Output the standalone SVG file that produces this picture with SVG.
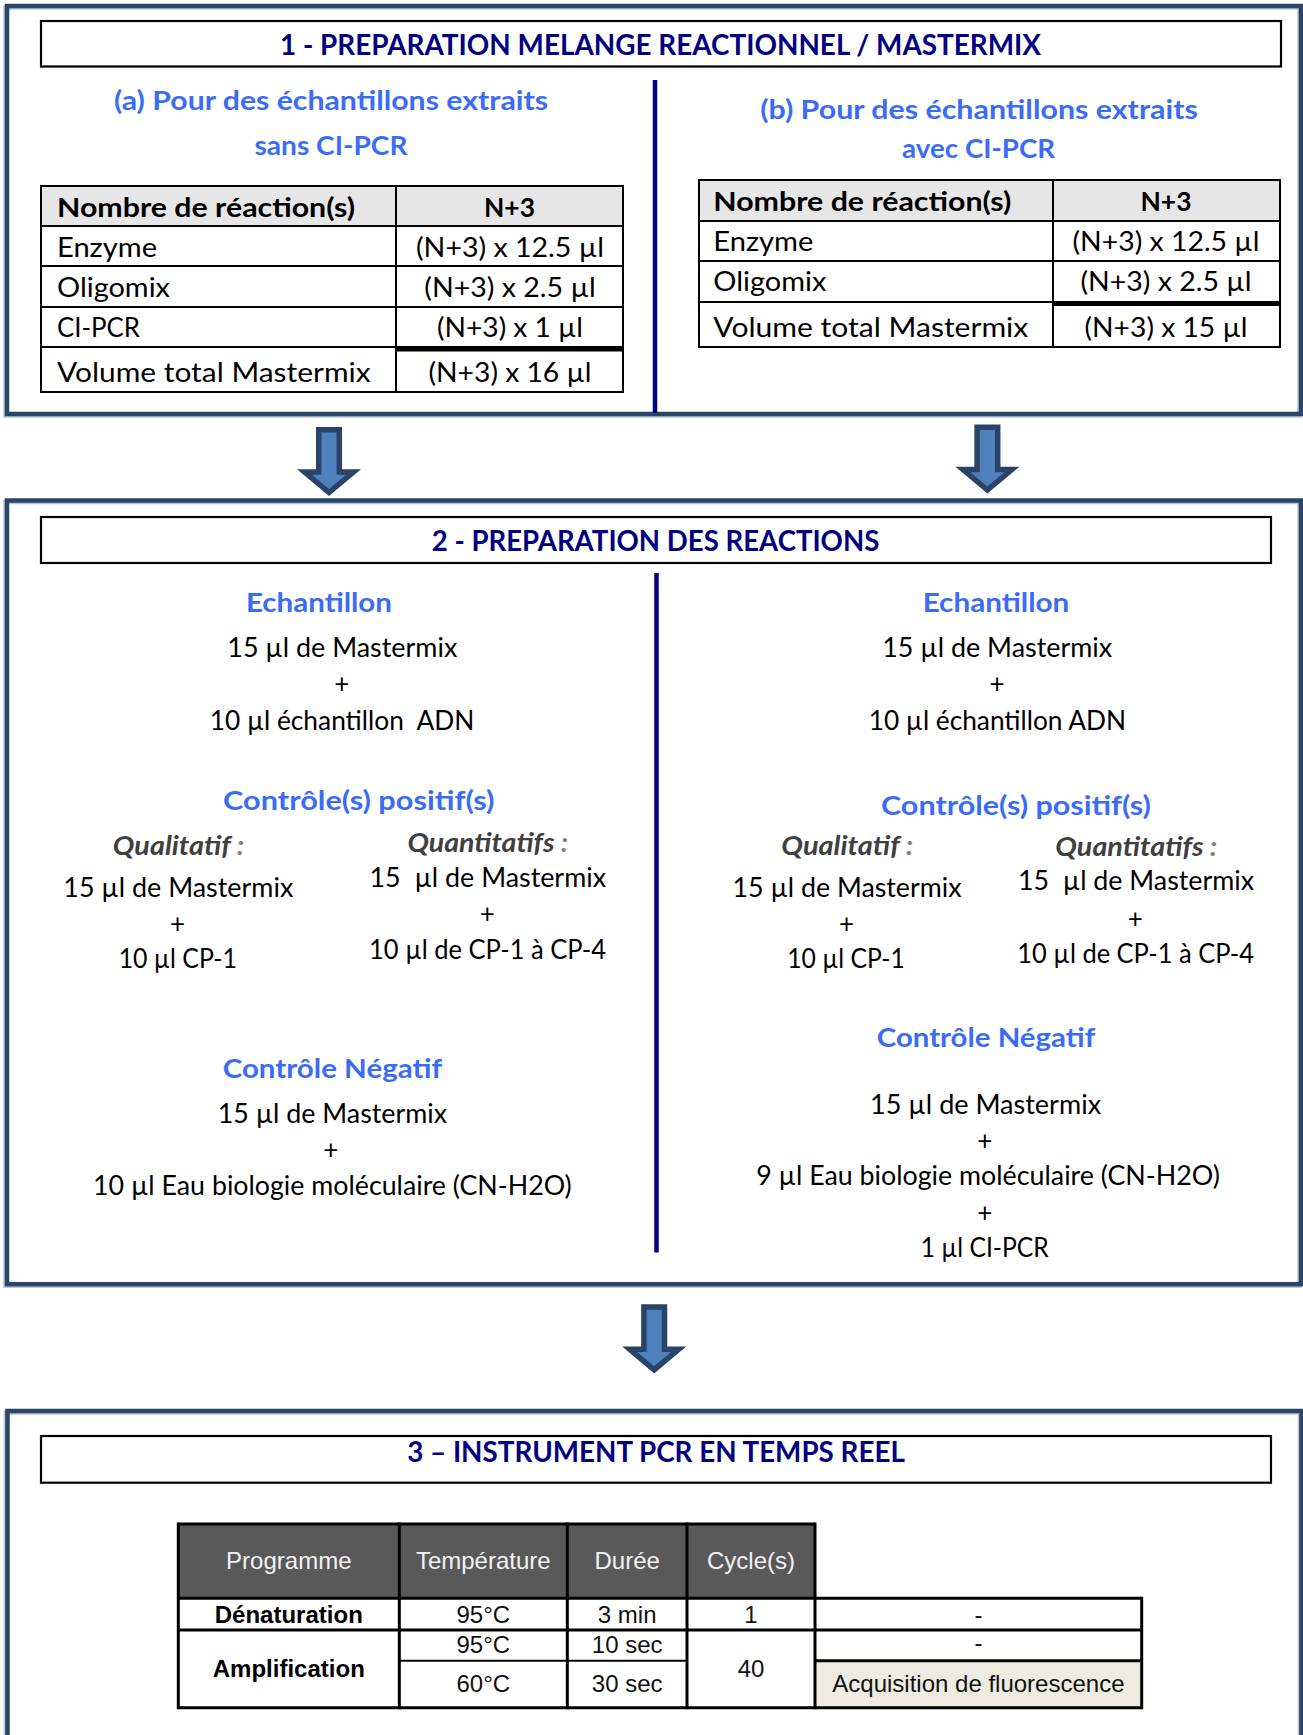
<svg xmlns="http://www.w3.org/2000/svg" width="1303" height="1735" viewBox="0 0 1303 1735">
<style>
.frame{fill:none;stroke:#2B4567;stroke-width:4.5}
.frameL{fill:none;stroke:#B8C4D4;stroke-width:4.5}
.tbox{fill:none;stroke:#000;stroke-width:2.2}
.div{stroke:#000080;stroke-width:4.5}
.title{font-family:Lato,"Open Sans",sans-serif;font-weight:bold;font-size:28px;fill:#000080;text-anchor:middle}
.head{font-family:Lato,"Open Sans",sans-serif;font-weight:bold;font-size:27px;fill:#3B6CF8;text-anchor:middle}
.cell{font-family:Lato,"Open Sans",sans-serif;font-size:27px;fill:#000}
.cellb{font-family:Lato,"Open Sans",sans-serif;font-size:27px;font-weight:bold;fill:#000}
.mid{text-anchor:middle}
.body{font-family:Lato,"Open Sans",sans-serif;font-size:26px;fill:#000;text-anchor:middle}
.sub{font-family:Lato,"Open Sans",sans-serif;font-size:26px;font-weight:bold;font-style:italic;fill:#404040;text-anchor:middle}
.colon{fill:#808080}
.tl{fill:none;stroke:#000;stroke-width:2}
.hdr{fill:#E7E6E6}
.t3{font-family:"Liberation Sans",Arial,sans-serif;font-size:24px;fill:#111;text-anchor:middle}
.t3h{font-family:"Liberation Sans",Arial,sans-serif;font-size:24px;fill:#F2F2F2;text-anchor:middle}
.t3b{font-family:"Liberation Sans",Arial,sans-serif;font-size:24px;font-weight:bold;fill:#000;text-anchor:middle}
.g3{stroke:#000;stroke-width:3;fill:none}
.arrow{fill:#4F81BD;stroke:#2A4467;stroke-width:5.5;stroke-linejoin:miter}
</style>
<defs>
<path id="arr" class="arrow" d="M-10.3,2.7 H10.3 V45 H24.5 L0,65.5 L-24.5,45 H-10.3 Z"/>
</defs>
<rect width="1303" height="1735" fill="#fff"/>

<!-- SECTION 1 -->
<g id="section1">
<rect class="frameL" x="5.5" y="7.5" width="1294" height="408"/>
<rect class="frame" x="7" y="6" width="1294" height="408"/>
<rect class="tbox" x="41" y="21" width="1240" height="45.5"/>
<text class="title" x="660.5" y="55" textLength="761" lengthAdjust="spacingAndGlyphs">1 - PREPARATION MELANGE REACTIONNEL / MASTERMIX</text>
<line class="div" x1="655" y1="80" x2="655" y2="413"/>
</g>

<g id="table-a">
<text class="head" x="331" y="110" textLength="434" lengthAdjust="spacingAndGlyphs">(a) Pour des échantillons extraits</text>
<text class="head" x="331" y="155" textLength="153" lengthAdjust="spacingAndGlyphs">sans CI-PCR</text>
<rect class="hdr" x="41" y="186" width="582" height="40"/>
<rect class="tl" x="41" y="186" width="582" height="206"/>
<line class="tl" x1="41" y1="226" x2="623" y2="226"/>
<line class="tl" x1="41" y1="266" x2="623" y2="266"/>
<line class="tl" x1="41" y1="307" x2="623" y2="307"/>
<line class="tl" x1="41" y1="347" x2="623" y2="347"/>
<rect x="396" y="346.5" width="227" height="5" fill="#000"/>
<line class="tl" x1="396" y1="186" x2="396" y2="392"/>
<text class="cellb" x="57" y="216.7" textLength="298" lengthAdjust="spacingAndGlyphs">Nombre de réaction(s)</text>
<text class="cellb mid" x="509.5" y="216.7" textLength="51" lengthAdjust="spacingAndGlyphs">N+3</text>
<text class="cell" x="57" y="256.7" textLength="100" lengthAdjust="spacingAndGlyphs">Enzyme</text>
<text class="cell mid" x="510" y="256.7" textLength="188" lengthAdjust="spacingAndGlyphs">(N+3) x 12.5 µl</text>
<text class="cell" x="57" y="296.7" textLength="113" lengthAdjust="spacingAndGlyphs">Oligomix</text>
<text class="cell mid" x="510" y="296.7" textLength="171.5" lengthAdjust="spacingAndGlyphs">(N+3) x 2.5 µl</text>
<text class="cell" x="57" y="337.3" textLength="83" lengthAdjust="spacingAndGlyphs">CI-PCR</text>
<text class="cell mid" x="510" y="337.3" textLength="146" lengthAdjust="spacingAndGlyphs">(N+3) x 1 µl</text>
<text class="cell" x="57" y="381.7" textLength="313.6" lengthAdjust="spacingAndGlyphs">Volume total Mastermix</text>
<text class="cell mid" x="510" y="381.7" textLength="163" lengthAdjust="spacingAndGlyphs">(N+3) x 16 µl</text>
</g>

<g id="table-b">
<text class="head" x="979" y="119" textLength="437.6" lengthAdjust="spacingAndGlyphs">(b) Pour des échantillons extraits</text>
<text class="head" x="978.6" y="158" textLength="153" lengthAdjust="spacingAndGlyphs">avec CI-PCR</text>
<rect class="hdr" x="699" y="180" width="581" height="41"/>
<rect class="tl" x="699" y="180" width="581" height="167"/>
<line class="tl" x1="699" y1="221" x2="1280" y2="221"/>
<line class="tl" x1="699" y1="261" x2="1280" y2="261"/>
<line class="tl" x1="699" y1="302" x2="1280" y2="302"/>
<rect x="1053" y="301" width="227" height="5" fill="#000"/>
<line class="tl" x1="1053" y1="180" x2="1053" y2="347"/>
<text class="cellb" x="713.3" y="210.7" textLength="298" lengthAdjust="spacingAndGlyphs">Nombre de réaction(s)</text>
<text class="cellb mid" x="1166" y="210.7" textLength="51" lengthAdjust="spacingAndGlyphs">N+3</text>
<text class="cell" x="713.3" y="250.7" textLength="100" lengthAdjust="spacingAndGlyphs">Enzyme</text>
<text class="cell mid" x="1166" y="250.7" textLength="187" lengthAdjust="spacingAndGlyphs">(N+3) x 12.5 µl</text>
<text class="cell" x="713.3" y="291" textLength="113" lengthAdjust="spacingAndGlyphs">Oligomix</text>
<text class="cell mid" x="1166" y="291" textLength="171" lengthAdjust="spacingAndGlyphs">(N+3) x 2.5 µl</text>
<text class="cell" x="713.3" y="336.7" textLength="315" lengthAdjust="spacingAndGlyphs">Volume total Mastermix</text>
<text class="cell mid" x="1166" y="336.7" textLength="163" lengthAdjust="spacingAndGlyphs">(N+3) x 15 µl</text>
</g>

<!-- SECTION 2 -->
<g id="section2">
<rect class="frameL" x="5.5" y="502" width="1294" height="783.7"/>
<rect class="frame" x="7" y="500.5" width="1294" height="783.7"/>
<rect class="tbox" x="41" y="517" width="1230" height="46"/>
<text class="title" x="655.5" y="550.8" textLength="447.6" lengthAdjust="spacingAndGlyphs">2 - PREPARATION DES REACTIONS</text>
<line class="div" x1="656.5" y1="573" x2="656.5" y2="1252.5"/>
</g>

<g id="reactions-a">
<text class="head" x="319" y="611.7" textLength="146" lengthAdjust="spacingAndGlyphs">Echantillon</text>
<text class="body" x="342.3" y="656.8" textLength="230" lengthAdjust="spacingAndGlyphs">15 µl de Mastermix</text>
<text class="body" x="341.7" y="693">+</text>
<text class="body" x="342" y="729.6" xml:space="preserve" textLength="264.7" lengthAdjust="spacingAndGlyphs">10 µl échantillon  ADN</text>
<text class="head" x="358.8" y="810" textLength="271.5" lengthAdjust="spacingAndGlyphs">Contrôle(s) positif(s)</text>
<text class="sub" x="178.5" y="855" textLength="131.5" lengthAdjust="spacingAndGlyphs">Qualitatif<tspan class="colon"> :</tspan></text>
<text class="body" x="178.3" y="897" textLength="230" lengthAdjust="spacingAndGlyphs">15 µl de Mastermix</text>
<text class="body" x="177.6" y="933.2">+</text>
<text class="body" x="177.8" y="968" textLength="118.3" lengthAdjust="spacingAndGlyphs">10 µl CP-1</text>
<text class="sub" x="487.8" y="852" textLength="160.8" lengthAdjust="spacingAndGlyphs">Quantitatifs<tspan class="colon"> :</tspan></text>
<text class="body" x="487.8" y="887.2" xml:space="preserve" textLength="236.5" lengthAdjust="spacingAndGlyphs">15  µl de Mastermix</text>
<text class="body" x="487.4" y="923">+</text>
<text class="body" x="487.6" y="959.2" textLength="237" lengthAdjust="spacingAndGlyphs">10 µl de CP-1 à CP-4</text>
<text class="head" x="332.4" y="1078.3" textLength="219.4" lengthAdjust="spacingAndGlyphs">Contrôle Négatif</text>
<text class="body" x="332.4" y="1123.3" textLength="229.3" lengthAdjust="spacingAndGlyphs">15 µl de Mastermix</text>
<text class="body" x="330.7" y="1159.2">+</text>
<text class="body" x="332.4" y="1195" textLength="478.7" lengthAdjust="spacingAndGlyphs">10 µl Eau biologie moléculaire (CN-H2O)</text>
</g>

<g id="reactions-b">
<text class="head" x="996" y="611.7" textLength="146.6" lengthAdjust="spacingAndGlyphs">Echantillon</text>
<text class="body" x="997.2" y="656.8" textLength="230" lengthAdjust="spacingAndGlyphs">15 µl de Mastermix</text>
<text class="body" x="997" y="693">+</text>
<text class="body" x="997.4" y="729.6" textLength="257.4" lengthAdjust="spacingAndGlyphs">10 µl échantillon ADN</text>
<text class="head" x="1016" y="814.5" textLength="270" lengthAdjust="spacingAndGlyphs">Contrôle(s) positif(s)</text>
<text class="sub" x="847.2" y="855" textLength="132" lengthAdjust="spacingAndGlyphs">Qualitatif<tspan class="colon"> :</tspan></text>
<text class="body" x="847" y="897" textLength="229" lengthAdjust="spacingAndGlyphs">15 µl de Mastermix</text>
<text class="body" x="846.6" y="933.2">+</text>
<text class="body" x="846" y="968" textLength="117.5" lengthAdjust="spacingAndGlyphs">10 µl CP-1</text>
<text class="sub" x="1136.3" y="855.8" textLength="162" lengthAdjust="spacingAndGlyphs">Quantitatifs<tspan class="colon"> :</tspan></text>
<text class="body" x="1136" y="890.3" xml:space="preserve" textLength="236.2" lengthAdjust="spacingAndGlyphs">15  µl de Mastermix</text>
<text class="body" x="1135.2" y="927.5">+</text>
<text class="body" x="1135.7" y="963" textLength="236.7" lengthAdjust="spacingAndGlyphs">10 µl de CP-1 à CP-4</text>
<text class="head" x="986" y="1047.3" textLength="218.5" lengthAdjust="spacingAndGlyphs">Contrôle Négatif</text>
<text class="body" x="985.6" y="1114" textLength="231" lengthAdjust="spacingAndGlyphs">15 µl de Mastermix</text>
<text class="body" x="984.7" y="1150.2">+</text>
<text class="body" x="988" y="1185" textLength="463.7" lengthAdjust="spacingAndGlyphs">9 µl Eau biologie moléculaire (CN-H2O)</text>
<text class="body" x="984.7" y="1221.8">+</text>
<text class="body" x="984.7" y="1257.3" textLength="128" lengthAdjust="spacingAndGlyphs">1 µl CI-PCR</text>
</g>

<!-- SECTION 3 -->
<g id="section3">
<rect class="frameL" x="6" y="1412.5" width="1294" height="400"/>
<rect class="frame" x="7.5" y="1411" width="1294" height="400"/>
<rect class="tbox" x="41" y="1436" width="1230" height="46.7"/>
<text class="title" x="656" y="1461.7" textLength="497.7" lengthAdjust="spacingAndGlyphs">3 – INSTRUMENT PCR EN TEMPS REEL</text>
</g>

<g id="pcr-table">
<rect x="178.3" y="1523" width="636.7" height="75.3" fill="#595959"/>
<rect x="815" y="1660.7" width="326.7" height="47" fill="#EEECE1"/>
<line class="g3" x1="178.3" y1="1524" x2="815" y2="1524"/>
<line class="g3" x1="178.3" y1="1598.3" x2="1141.7" y2="1598.3"/>
<line class="g3" x1="178.3" y1="1630" x2="1141.7" y2="1630"/>
<line x1="399.3" y1="1660.7" x2="687" y2="1660.7" stroke="#000" stroke-width="2"/>
<line class="g3" x1="815" y1="1660.7" x2="1141.7" y2="1660.7"/>
<line class="g3" x1="178.3" y1="1707.7" x2="1141.7" y2="1707.7"/>
<line class="g3" x1="178.3" y1="1522.5" x2="178.3" y2="1709.2"/>
<line class="g3" x1="399.3" y1="1522.5" x2="399.3" y2="1709.2"/>
<line class="g3" x1="567.3" y1="1522.5" x2="567.3" y2="1709.2"/>
<line class="g3" x1="687" y1="1522.5" x2="687" y2="1709.2"/>
<line class="g3" x1="815" y1="1522.5" x2="815" y2="1709.2"/>
<line class="g3" x1="1141.7" y1="1596.8" x2="1141.7" y2="1709.2"/>
<text class="t3h" x="288.8" y="1569.3">Programme</text>
<text class="t3h" x="483.3" y="1569.3">Température</text>
<text class="t3h" x="627.2" y="1569.3">Durée</text>
<text class="t3h" x="751" y="1569.3">Cycle(s)</text>
<text class="t3b" x="288.8" y="1623.3">Dénaturation</text>
<text class="t3" x="483.3" y="1623.3">95°C</text>
<text class="t3" x="627.2" y="1623.3">3 min</text>
<text class="t3" x="751" y="1623.3">1</text>
<text class="t3" x="978.4" y="1623.3">-</text>
<text class="t3" x="483.3" y="1653.3">95°C</text>
<text class="t3" x="627.2" y="1653.3">10 sec</text>
<text class="t3" x="978.4" y="1651">-</text>
<text class="t3b" x="288.8" y="1676.7">Amplification</text>
<text class="t3" x="751" y="1676.7">40</text>
<text class="t3" x="483.3" y="1691.7">60°C</text>
<text class="t3" x="627.2" y="1691.7">30 sec</text>
<text class="t3" x="978.4" y="1691.7">Acquisition de fluorescence</text>
</g>

<!-- CONNECTORS -->
<g id="connectors">
<use href="#arr" transform="translate(329,427)"/>
<use href="#arr" transform="translate(987.4,424.5)"/>
<use href="#arr" transform="translate(654.2,1304.3)"/>
</g>
</svg>
